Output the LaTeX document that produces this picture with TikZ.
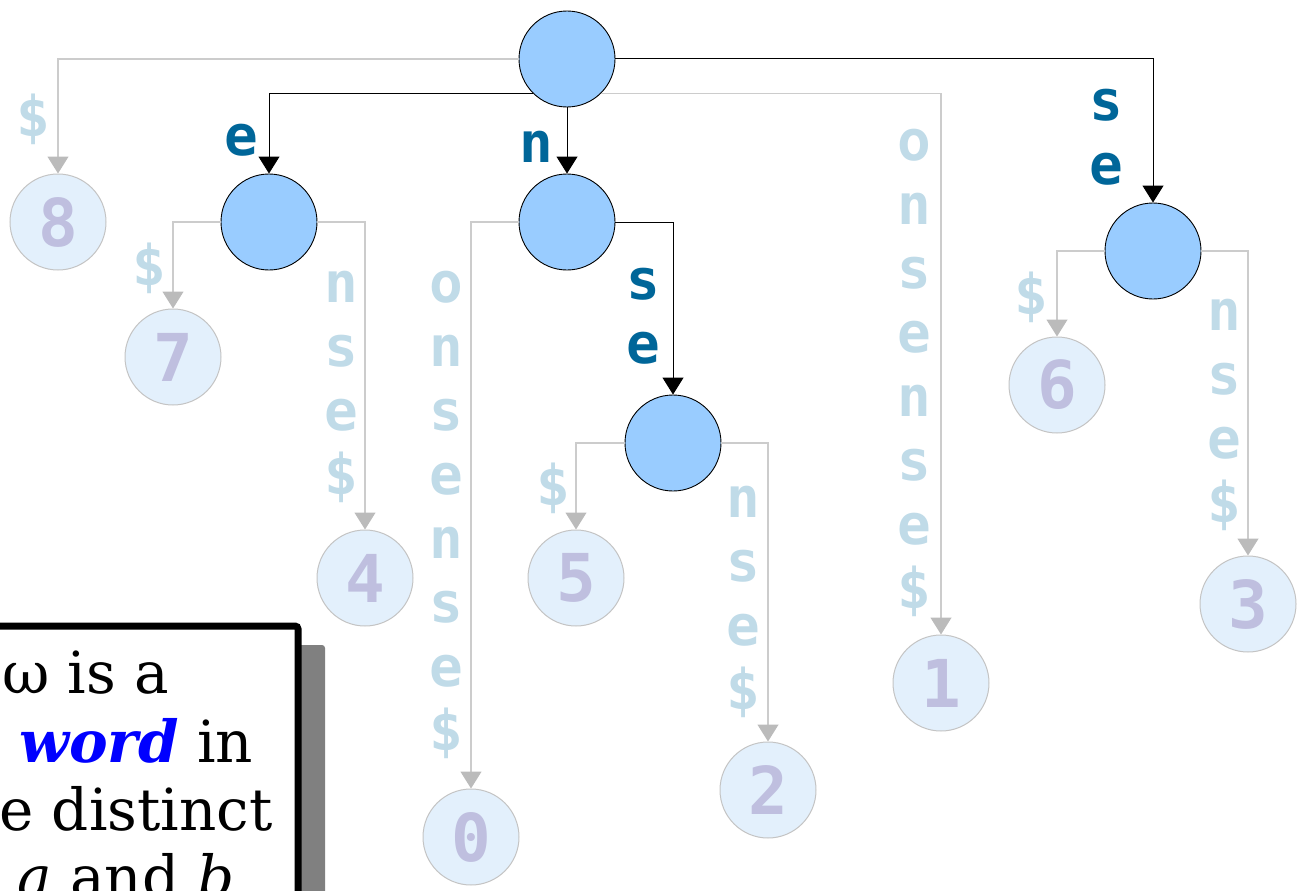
\documentclass[tikz,border=0pt]{standalone}
\usepackage{fontspec}
\setmainfont{DejaVu Serif}
\newfontfamily\monob{DejaVu Sans Mono}
\usetikzlibrary{arrows.meta}
\definecolor{innerfill}{HTML}{99CCFF}
\definecolor{leaffill}{HTML}{E3F0FC}
\definecolor{leafline}{HTML}{C4C4C4}
\definecolor{edgegray}{HTML}{CCCCCC}
\definecolor{tipgray}{HTML}{BBBBBB}
\definecolor{lblgray}{HTML}{C0DBE8}
\definecolor{lbldark}{HTML}{006699}
\definecolor{digitcol}{HTML}{BFBFDF}
\definecolor{shadowgray}{HTML}{808080}
\definecolor{wordblue}{HTML}{0000FF}
\tikzset{
  innernode/.style={circle, draw=black, fill=innerfill, minimum size=96pt, inner sep=0pt, line width=0.9pt},
  leafnode/.style={circle, draw=leafline, fill=leaffill, minimum size=96pt, inner sep=0pt, line width=1pt,
    text=digitcol, font=\monob\bfseries\fontsize{66}{66}\selectfont},
  blk/.style={draw=black, line width=1pt, -{Triangle[width=21pt,length=17pt]}},
  gry/.style={draw=edgegray, line width=1.2pt, -{Triangle[width=21pt,length=17pt,color=tipgray,fill=tipgray]}},
  lg/.style={text=lblgray, font=\monob\bfseries\fontsize{56}{56}\selectfont, inner sep=0pt, anchor=base},
  ld/.style={text=lbldark, font=\monob\bfseries\fontsize{56}{56}\selectfont, inner sep=0pt, anchor=base},
  boxtext/.style={anchor=base west, inner sep=0pt, font=\fontsize{58}{58}\selectfont}
}
\begin{document}
\begin{tikzpicture}[x=1pt,y=-1pt]
\useasboundingbox (0,0) rectangle (1304,891);
\clip (0,0) rectangle (1304,891);
% nodes
\node[innernode] (root) at (567,59) {};
\node[innernode] (en) at (269,222) {};
\node[innernode] (nn) at (567,222) {};
\node[innernode] (nse) at (673,443) {};
\node[innernode] (rse) at (1153,251) {};
\node[leafnode] (l8) at (58,222) {8};
\node[leafnode] (l7) at (173,357) {7};
\node[leafnode] (l4) at (365,578) {4};
\node[leafnode] (l0) at (471,837) {0};
\node[leafnode] (l5) at (576,578) {5};
\node[leafnode] (l2) at (768,790) {2};
\node[leafnode] (l1) at (941,683) {1};
\node[leafnode] (l6) at (1057,385) {6};
\node[leafnode] (l3) at (1248,604) {3};
% edges
\draw[gry] (root.west) -| (l8);
\draw[gry] (root.315) -| (l1);
\draw[blk] (root.225) -| (en);
\draw[blk] (root) -- (nn);
\draw[blk] (root.east) -| (rse);
\draw[gry] (en.west) -| (l7);
\draw[gry] (en.east) -| (l4);
\draw[gry] (nn.west) -| (l0);
\draw[blk] (nn.east) -| (nse);
\draw[gry] (nse.west) -| (l5);
\draw[gry] (nse.east) -| (l2);
\draw[gry] (rse.west) -| (l6);
\draw[gry] (rse.east) -| (l3);
% labels
\node[lg] (d8) at (33,136) {\$};
\node[lg] (d7) at (149,285) {\$};
\node[lg] (d5) at (553,505) {\$};
\node[lg] (d6) at (1031,314) {\$};
\node[ld] (le) at (241,155) {e};
\node[ld] (ln) at (536,162) {n};
\node[ld] (ls1) at (643,299) {s};
\node[ld] (le1) at (643,363) {e};
\node[ld] (ls2) at (1106,120) {s};
\node[ld] (le2) at (1106,184) {e};
\foreach \c [count=\k from 0] in {o,n,s,e,n,s,e,\$} {
  \node[lg] (a1-\k) at (914,{160+64*\k}) {\c};
  \node[lg] (a0-\k) at (446,{302+64*\k}) {\c};
}
\foreach \c [count=\k from 0] in {n,s,e,\$} {
  \node[lg] (a4-\k) at (341,{302+64*\k}) {\c};
  \node[lg] (a2-\k) at (743,{517+64*\k}) {\c};
  \node[lg] (a3-\k) at (1224,{330+64*\k}) {\c};
}
% box
\fill[shadowgray, rounded corners=3pt] (3,645) rectangle (325,960);
\draw[line width=7pt, fill=white, rounded corners=3pt] (-20,626) rectangle (298,940);
\node[boxtext] (t1) at (2,693) {ω is a};
\node[boxtext] (t2) at (19,762) {\textcolor{wordblue}{\textbf{\textit{word}}} in};
\node[boxtext] (t3) at (-1,830) {e distinct};
\node[boxtext] (t4) at (17,897) {\textit{a} and \textit{b}};
\end{tikzpicture}
\end{document}
